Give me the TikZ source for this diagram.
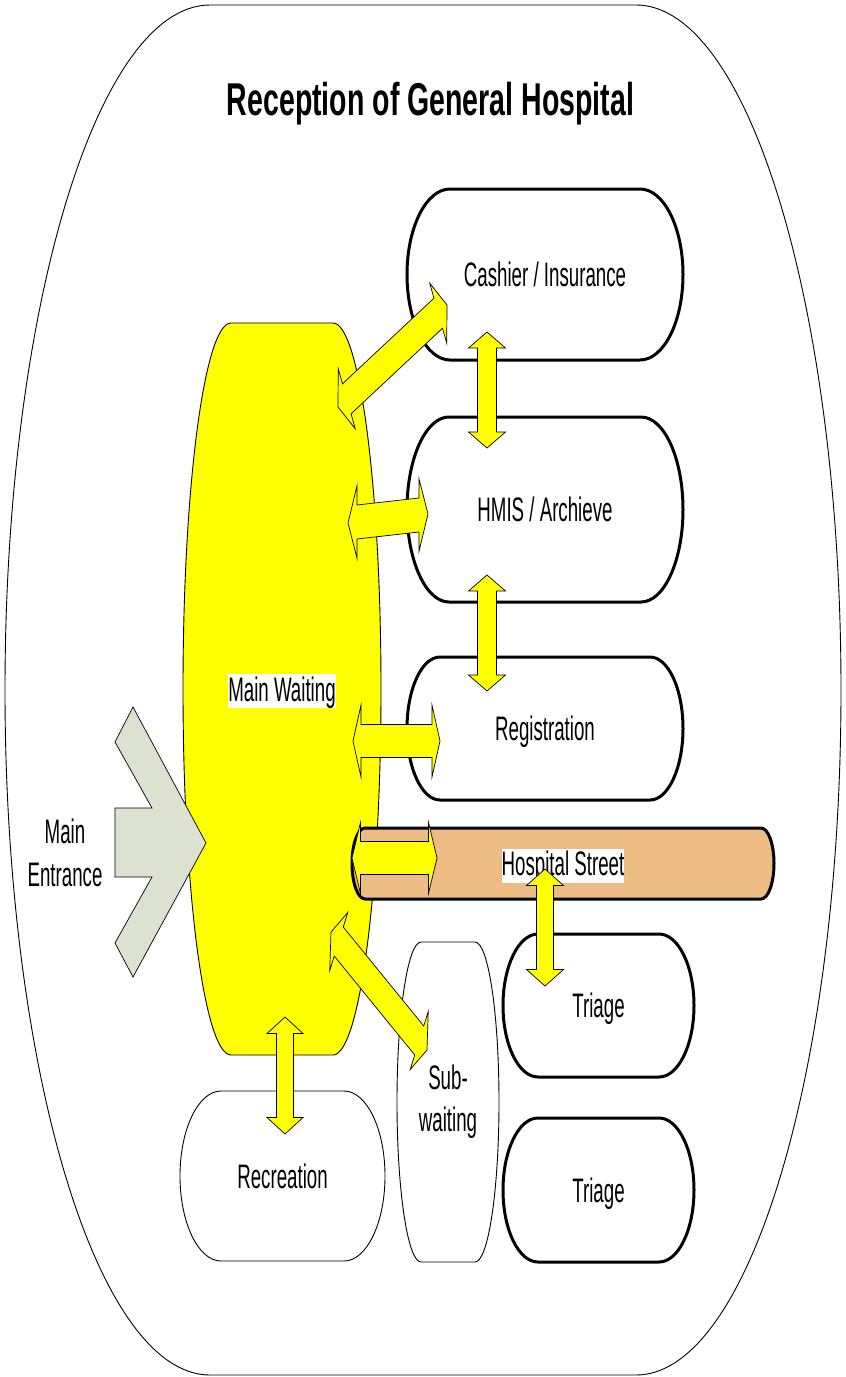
\documentclass[tikz,border=0pt]{standalone}
\usepackage{fontspec}
\usetikzlibrary{calc}
\newfontfamily\narrowfont{Liberation Sans}[FakeStretch=0.55]
\newfontfamily\titlefont{Liberation Sans}[FakeStretch=0.62]
\definecolor{streetfill}{RGB}{236,188,132}
\definecolor{entrfill}{RGB}{221,225,207}
\definecolor{pureyellow}{RGB}{255,255,0}
\pgfdeclarelayer{back}
\pgfsetlayers{back,main}
\newcommand\labbox[1]{{\setlength{\fboxsep}{0pt}\colorbox{white}{\rule[-7pt]{0pt}{34pt}#1}}}
% terminator outline around a node: #1 node, #2 end radius, #3 style
\newcommand\termpath[3]{%
  \path[#3] ([xshift=#2]#1.north west) -- ([xshift=-#2]#1.north east)
    .. controls ([xshift={-0.4477*#2}]#1.north east) and ($(#1.east)!0.5523!(#1.north east)$) .. (#1.east)
    .. controls ($(#1.east)!0.5523!(#1.south east)$) and ([xshift={-0.4477*#2}]#1.south east) .. ([xshift=-#2]#1.south east)
    -- ([xshift=#2]#1.south west)
    .. controls ([xshift={0.4477*#2}]#1.south west) and ($(#1.west)!0.5523!(#1.south west)$) .. (#1.west)
    .. controls ($(#1.west)!0.5523!(#1.north west)$) and ([xshift={0.4477*#2}]#1.north west) .. ([xshift=#2]#1.north west) -- cycle;}
% block double arrow: #1,#2 tips, #3 head length, (#4,#5) head half-cross, (#6,#7) shaft half-cross
\newcommand\dbl[7]{%
  \path[yarrow] (#1)
    -- ($(#1)!#3pt!(#2)+(#4,#5)$)
    -- ($(#1)!#3pt!(#2)+(#6,#7)$)
    -- ($(#2)!#3pt!(#1)+(#6,#7)$)
    -- ($(#2)!#3pt!(#1)+(#4,#5)$)
    -- (#2)
    -- ($(#2)!#3pt!(#1)+({-1*(#4)},{-1*(#5)})$)
    -- ($(#2)!#3pt!(#1)+({-1*(#6)},{-1*(#7)})$)
    -- ($(#1)!#3pt!(#2)+({-1*(#6)},{-1*(#7)})$)
    -- ($(#1)!#3pt!(#2)+({-1*(#4)},{-1*(#5)})$)
    -- cycle;}
\tikzset{
  narrow/.style={font=\narrowfont\fontsize{34pt}{42pt}\selectfont},
  shapebox/.style={rectangle, inner sep=0pt, outer sep=0pt},
  boxn/.style={shapebox, narrow, text height=24pt, text depth=0pt},
  thickline/.style={draw=black, line width=3pt},
  thinline/.style={draw=black, line width=0.9pt},
  yarrow/.style={fill=pureyellow, draw=black, line width=0.7pt, line join=miter},
}
\begin{document}
\begin{tikzpicture}[x=1pt, y=-1pt]
\useasboundingbox (0,0) rectangle (846,1377);

% nodes
\node[shapebox, minimum width=836pt, minimum height=1370pt] (outer) at (423,690) {};
\node[anchor=base, inner sep=0pt, font=\titlefont\bfseries\fontsize{46pt}{50pt}\selectfont] (title) at (430.5,115) {Reception of General Hospital};
\node[boxn, minimum width=198pt, minimum height=732pt] (mw) at (282,689) {\labbox{Main Waiting}};
\node[boxn, minimum width=276pt, minimum height=171pt] (cash) at (545,274.5) {Cashier / Insurance};
\node[boxn, minimum width=276pt, minimum height=185pt] (hmis) at (545,509.5) {HMIS / Archieve};
\node[boxn, minimum width=276pt, minimum height=143pt] (reg) at (545,728.5) {Registration};
\node[boxn, minimum width=422pt, minimum height=71pt] (street) at (563,863.5) {\labbox{Hospital Street}};
\node[boxn, minimum width=191pt, minimum height=143pt] (tri1) at (598.5,1005.5) {Triage};
\node[boxn, minimum width=191pt, minimum height=144pt] (tri2) at (598.5,1190) {Triage};
\node[shapebox, narrow, align=center, minimum width=102pt, minimum height=320pt] (sub) at (448,1102) {Sub-\\waiting};
\node[boxn, minimum width=205pt, minimum height=170pt] (rec) at (282.5,1176) {Recreation};
\node[shapebox, narrow, align=center, font=\narrowfont\fontsize{34pt}{43pt}\selectfont] (entr) at (65,853) {Main\\Entrance};

% shapes behind
\begin{pgfonlayer}{back}
  \termpath{outer}{205}{thinline}
  \termpath{mw}{48}{thinline, fill=pureyellow}
  \draw[thinline, line width=0.7pt, fill=entrfill] (115,742) -- (133,707) -- (206,843) -- (133,977) -- (115,943)
     -- (152,877) -- (115,877) -- (115,808) -- (152,808) -- cycle;
  \termpath{cash}{43}{thickline}
  \termpath{hmis}{42}{thickline}
  \termpath{reg}{33}{thickline}
  \termpath{tri1}{35}{thickline}
  \termpath{tri2}{35}{thickline}
  \termpath{sub}{24}{thinline}
  \termpath{rec}{41}{thinline}
  \termpath{street}{13}{thickline, fill=streetfill}
\end{pgfonlayer}

% arrow end points
\coordinate (c1a) at (338,407);  \coordinate (c1b) at (447,305);
\coordinate (c2a) at (487,332);  \coordinate (c2b) at (487,448);
\coordinate (c3a) at (348,523);  \coordinate (c3b) at (428,514);
\coordinate (c4a) at (487,575);  \coordinate (c4b) at (487,691);
\coordinate (c5a) at (353,741);  \coordinate (c5b) at (440,741);
\coordinate (c6a) at (352,858);  \coordinate (c6b) at (437,858);
\coordinate (c7a) at (545,869);  \coordinate (c7b) at (545,986);
\coordinate (c8a) at (285,1017); \coordinate (c8b) at (285,1134);
\coordinate (c9a) at (331,932);  \coordinate (c9b) at (427,1050);

\dbl{c1a}{c1b}{12}{8.5}{30}{4.3}{15}
\dbl{c2a}{c2b}{16}{18.5}{0}{9.5}{0}
\dbl{c3a}{c3b}{9}{0}{36}{0}{17}
\dbl{c4a}{c4b}{16}{18.5}{0}{9.5}{0}
\dbl{c5a}{c5b}{8}{0}{36}{0}{16.5}
\dbl{c6a}{c6b}{8.5}{0}{35.5}{0}{16.5}
\dbl{c7a}{c7b}{16.5}{18.5}{0}{8.5}{0}
\dbl{c8a}{c8b}{16.5}{18}{0}{8.5}{0}
\dbl{c9a}{c9b}{12.3}{-9}{29}{-4.5}{14.5}
\end{tikzpicture}
\end{document}
